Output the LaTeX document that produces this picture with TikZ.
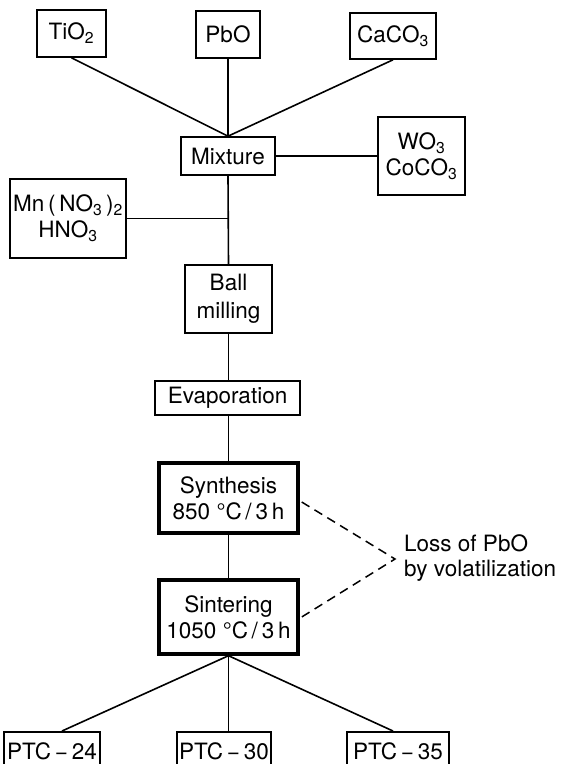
\documentclass[tikz,border=0pt]{standalone}
\usepackage{fontspec}
\setmainfont{TeX Gyre Heros}
\usetikzlibrary{calc}
\newcommand{\sbs}[1]{\textsubscript{#1}}
\begin{document}
\begin{tikzpicture}[x=1pt,y=-1pt,
  every node/.style={font=\fontsize{22.5}{26}\selectfont, align=center, inner sep=0pt},
  box/.style={draw, line width=1.6pt, rectangle},
  thickbox/.style={draw, line width=3.4pt, rectangle},
  conn/.style={line width=1.6pt},
  dconn/.style={line width=1.5pt, dash pattern=on 9pt off 6pt}]
\useasboundingbox (0,0) rectangle (565,764);
\begin{scope}
\clip (0,0) rectangle (565,764);
\node[box, minimum width=69pt, minimum height=47pt] (ti) at (71.5,33.5) {TiO\sbs{2}};
\node[box, minimum width=64pt, minimum height=47pt] (pb) at (228,34.5) {PbO};
\node[box, minimum width=86pt, minimum height=46pt] (ca) at (393,36) {CaCO\sbs{3}};
\node[box, minimum width=94pt, minimum height=38pt] (mix) at (228,156) {Mixture};
\node[box, minimum width=87pt, minimum height=78pt] (wo) at (421.5,156) {WO\sbs{3}\\CoCO\sbs{3}};
\node[box, minimum width=116pt, minimum height=79pt] (mn) at (68,218.5) {Mn\,(\,NO\sbs{3}\,)\sbs{2}\\HNO\sbs{3}};
\node[box, minimum width=87pt, minimum height=68pt, font=\fontsize{22.5}{28}\selectfont] (ball) at (228.5,299) {Ball\\milling};
\node[box, minimum width=145pt, minimum height=34pt] (evap) at (227.5,398) {Evaporation};
\node[thickbox, minimum width=139pt, minimum height=70pt] (syn) at (228.5,498) {Synthesis\\850 °C\,/\,3\,h};
\node[thickbox, minimum width=139pt, minimum height=74pt] (sin) at (228.5,617) {Sintering\\1050 °C\,/\,3\,h};
\node[box, minimum width=96pt, minimum height=46pt, anchor=north] (p24) at (52,731) {\raisebox{8pt}{PTC\,−\,24}};
\node[box, minimum width=94pt, minimum height=46pt, anchor=north] (p30) at (224,731) {\raisebox{8pt}{PTC\,−\,30}};
\node[box, minimum width=102pt, minimum height=46pt, anchor=north] (p35) at (398,731) {\raisebox{8pt}{PTC\,−\,35}};
\node[anchor=west, align=left, font=\fontsize{22.5}{25}\selectfont] (loss) at (404,558) {Loss of PbO\\by volatilization};
\coordinate (lp) at (395,559);
\draw[conn] (ti.south) -- (mix.north);
\draw[conn] (pb.south) -- (mix.north);
\draw[conn] (ca.south) -- (mix.north);
\draw[conn] (mix.east) -- (mix.east -| wo.west);
\draw[conn] (mix.south) -- (ball.north);
\draw[conn] (mn.east) -- (mn.east -| mix.south);
\draw[conn] (ball.south) -- (ball.south |- evap.north);
\draw[conn] (evap.south -| syn.north) -- (syn.north);
\draw[conn] (syn.south) -- (sin.north);
\draw[conn] (sin.south) -- ($(p24.north)+(10,0)$);
\draw[conn] (sin.south) -- (sin.south |- p30.north);
\draw[conn] (sin.south) -- ($(p35.north)+(-5,0)$);
\draw[dconn] ($(syn.east)+(2,4)$) -- (lp) -- ($(sin.east)+(2,0)$);
\end{scope}
\end{tikzpicture}
\end{document}
